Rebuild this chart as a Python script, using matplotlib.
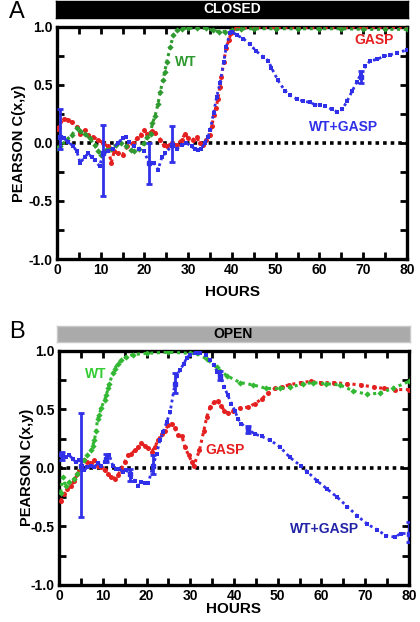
import numpy as np
import matplotlib
matplotlib.use('Agg')
import matplotlib.pyplot as plt
from matplotlib.ticker import MultipleLocator

plt.rcParams['font.family'] = ['Liberation Sans', 'DejaVu Sans']

# ---- panel A (CLOSED) ----
wt_a_x = [0, 0.75, 2.25, 3.4, 4.5, 5.3, 6.4, 7.5, 8.6, 9.4, 10.1, 11.3, 12.4, 13.5, 14.6, 15.8,
          16.9, 17.6, 18.8, 19.9, 20.6, 21.4, 21.8, 22.4, 23.1, 23.6, 24.2, 24.6, 25.1, 25.9,
          26.6, 27.4, 28.5, 30, 32, 34, 35.7, 37, 38.5, 40, 42, 45, 50, 55, 60, 65, 70, 75, 80]
wt_a_y = [-0.04, -0.03, 0.03, 0.07, 0.13, 0.10, 0.08, 0.04, -0.02, -0.07, -0.10, -0.06, -0.05,
          -0.02, 0.0, -0.03, -0.06, -0.07, -0.05, 0.0, 0.05, 0.08, 0.17, 0.23, 0.34, 0.44, 0.54,
          0.61, 0.70, 0.83, 0.93, 0.97, 0.985, 0.99, 0.99, 0.99, 0.97, 0.96, 0.96, 0.97, 0.985,
          0.985, 0.985, 0.985, 0.985, 0.985, 0.98, 0.98, 0.98]

gasp_a_x = [0, 0.4, 1.5, 2.6, 3.4, 4.5, 5.3, 6.4, 7.1, 8.3, 9.4, 10.5, 11.6, 12.4, 13.1, 13.9,
            15, 16.1, 17.3, 18.4, 19.1, 19.9, 20.6, 21.8, 22.5, 23.6, 24.4, 25.1, 26.3, 27.4,
            28.5, 29.3, 30, 31.1, 31.9, 32.6, 33.4, 34.1, 34.9, 35.4, 35.9, 36.3, 36.8, 37.2,
            37.6, 38.1, 38.7, 39.3, 39.8, 40.9, 45, 50, 55, 60, 65, 70, 75, 80]
gasp_a_y = [0.12, 0.14, 0.21, 0.20, 0.18, 0.14, 0.08, 0.11, 0.07, 0.05, 0.03, 0.0, -0.03, -0.17,
            -0.07, -0.09, -0.10, -0.03, 0.0, 0.04, 0.07, 0.11, 0.08, 0.10, 0.09, 0.03, -0.02,
            -0.03, 0.0, -0.02, 0.03, 0.08, 0.04, 0.03, 0.05, 0.0, -0.02, 0.03, 0.07, 0.15, 0.24,
            0.30, 0.38, 0.48, 0.57, 0.70, 0.82, 0.89, 0.95, 0.99, 0.995, 0.995, 0.995, 0.995,
            0.995, 0.995, 0.995, 0.995]

mix_a_x = [0.6, 1.5, 2.6, 3.75, 4.5, 5.3, 6.4, 7.1, 7.9, 8.6, 9.75, 10.5, 11.6, 12.75, 13.9, 15,
           15.75, 16.5, 17.6, 18.75, 19.9, 21, 22.1, 23.1, 24, 24.75, 26.3, 27.4, 28.5, 29.6,
           30.75, 31.5, 32.3, 33, 33.75, 34.5, 35.0, 35.8, 36.5, 37.3, 38.1, 38.7, 39.5, 40,
           41.1, 42.6, 44.1, 45.6, 47.2, 48.3, 49, 50.5, 52.1, 53.3, 54.8, 56.3, 57.9, 59,
           60.1, 61.3, 62.8, 64, 65.2, 66.3, 67.5, 68.6, 69.4, 70.5, 71.6, 73.2, 74.7, 76.2,
           77.7, 80]
mix_a_y = [0.05, 0.04, 0.01, -0.03, -0.07, -0.17, -0.12, -0.09, -0.12, -0.15, -0.20, -0.09,
           -0.07, -0.05, 0.0, 0.04, 0.05, 0.01, -0.03, -0.05, -0.07, -0.17, -0.17, -0.23, -0.12,
           -0.09, -0.02, -0.05, -0.02, 0.0, -0.03, -0.05, -0.06, -0.05, 0.0, 0.05, 0.11, 0.26,
           0.40, 0.52, 0.70, 0.83, 0.95, 0.96, 0.93, 0.90, 0.85, 0.79, 0.74, 0.71, 0.65, 0.54,
           0.45, 0.41, 0.38, 0.36, 0.35, 0.33, 0.33, 0.32, 0.29, 0.27, 0.29, 0.36, 0.45, 0.53,
           0.59, 0.66, 0.71, 0.72, 0.75, 0.76, 0.78, 0.80]

err_a_x = [0.6, 10.5, 21.0, 26.3, 69.4]
err_a_y = [0.05, -0.09, -0.17, -0.02, 0.57]
err_a_lo = [-0.05, -0.46, -0.35, -0.16, 0.52]
err_a_hi = [0.29, 0.155, 0.0, 0.15, 0.62]

# ---- panel B (OPEN) ----
wt_b_x = [0.4, 0.8, 1.5, 2.3, 3.5, 4.2, 5, 5.8, 6.5, 7.3, 7.7, 8.1, 8.5, 8.8, 9.2, 9.6, 10.4,
          10.8, 11.2, 11.5, 12.3, 12.7, 13.5, 14.2, 15.4, 16.9, 20, 25, 30, 31.5, 33.8, 36,
          38.3, 41.4, 44.4, 47.4, 50.5, 52.8, 55.8, 58.1, 61.1, 64.2, 67.2, 70.3, 73.3, 76.3, 80]
wt_b_y = [-0.21, -0.08, -0.15, -0.12, -0.09, -0.05, -0.01, 0.07, 0.11, 0.15, 0.19, 0.24, 0.32,
          0.42, 0.45, 0.51, 0.58, 0.62, 0.68, 0.72, 0.81, 0.85, 0.89, 0.92, 0.95, 0.97, 0.98,
          0.99, 0.98, 0.98, 0.93, 0.86, 0.79, 0.73, 0.71, 0.68, 0.68, 0.69, 0.72, 0.73, 0.72,
          0.71, 0.66, 0.63, 0.64, 0.68, 0.74]

gasp_b_x = [0.4, 1.2, 1.9, 2.7, 3.5, 4.2, 5, 5.8, 6.5, 7.3, 8.1, 8.8, 9.6, 10.4, 11.2, 11.9,
            12.7, 13.5, 14.2, 15, 15.8, 16.5, 17.3, 18.1, 18.8, 19.6, 20.4, 21.2, 21.9, 22.7,
            23.5, 24.2, 25, 25.8, 26.5, 27.3, 28.1, 28.8, 29.6, 30.4, 30.8, 32.1, 33.1, 33.8,
            34.6, 35.4, 36.3, 37.1, 37.8, 38.6, 39.8, 41.3, 43.2, 44.8, 46.3, 47.8, 49.4, 50.9,
            52.5, 55.2, 57.5, 59.8, 62.8, 65.9, 69, 72.1, 74.4, 76.7, 80]
gasp_b_y = [-0.28, -0.22, -0.18, -0.15, -0.11, -0.05, 0.02, 0.07, 0.05, 0.04, 0.07, 0.02, 0.01,
            -0.02, -0.05, -0.08, -0.09, -0.06, -0.01, 0.05, 0.11, 0.12, 0.15, 0.18, 0.21, 0.19,
            0.17, 0.14, 0.18, 0.24, 0.29, 0.32, 0.37, 0.38, 0.34, 0.28, 0.27, 0.18, 0.11, 0.05,
            0.02, 0.15, 0.32, 0.44, 0.52, 0.56, 0.57, 0.53, 0.49, 0.47, 0.49, 0.51, 0.52, 0.55,
            0.59, 0.64, 0.68, 0.69, 0.71, 0.73, 0.74, 0.73, 0.73, 0.72, 0.71, 0.69, 0.68, 0.67,
            0.67]

mix_b_x = [0.4, 0.8, 1.5, 2.3, 3.1, 3.8, 4.6, 5.0, 5.8, 6.5, 7.3, 8.1, 8.8, 9.6, 10.4, 10.8,
           11.5, 12.3, 13.1, 13.8, 14.6, 15.4, 16.2, 16.5, 17.3, 18.1, 18.8, 19.6, 20.4, 21.5,
           22.3, 23.1, 23.8, 24.6, 25.4, 26.5, 26.9, 27.7, 28.5, 29.2, 30, 31.2, 32.3, 33.5,
           34.6, 35.4, 36.2, 37.1, 37.8, 38.6, 39.4, 40.2, 40.9, 41.7, 43.2, 44.8, 46.3, 48.2,
           50.5, 52.8, 55.2, 56.7, 59, 61.3, 63.6, 65.9, 68.2, 70.5, 72.8, 74.8, 76.7, 78.2,
           80]
mix_b_y = [0.11, 0.12, 0.09, 0.11, 0.08, 0.05, 0.07, 0.02, -0.02, 0.01, 0.02, 0.01, 0.04, 0.02,
           0.05, 0.08, 0.11, 0.02, -0.01, -0.01, -0.03, -0.02, -0.05, -0.08, -0.11, -0.15,
           -0.12, -0.13, -0.13, 0.02, 0.12, 0.24, 0.31, 0.39, 0.48, 0.72, 0.79, 0.84, 0.89, 0.94,
           0.97, 0.98, 0.98, 0.97, 0.92, 0.88, 0.82, 0.77, 0.69, 0.62, 0.55, 0.49, 0.42, 0.38,
           0.33, 0.29, 0.27, 0.24, 0.18, 0.09, 0.02, -0.03, -0.11, -0.18, -0.25, -0.33, -0.41,
           -0.48, -0.53, -0.58, -0.59, -0.56, -0.56]

err_b_x = [0.6, 5.0, 10.8, 16.2, 21.5, 26.5, 36.8, 43.2, 80]
err_b_y = [0.11, 0.02, 0.08, -0.05, 0.02, 0.72, 0.79, 0.33, -0.56]
err_b_lo = [0.07, -0.42, 0.05, -0.11, -0.05, 0.64, 0.75, 0.30, -0.63]
err_b_hi = [0.14, 0.47, 0.12, -0.01, 0.11, 0.81, 0.83, 0.36, -0.46]

GREEN = '#2f9a2f'
RED = '#e52020'
BLUE = '#3030e8'


def draw_panel(ax, wt, gasp, mix, err):
    ax.axhline(0, color='black', lw=2.6, ls=(0, (1, 1.1)), zorder=1)
    ax.plot(gasp[0], gasp[1], color=RED, ls=(0, (1, 1.2)), lw=2.2,
            marker='o', ms=3.6, mew=0, zorder=3)
    ax.plot(wt[0], wt[1], color=wt[2], ls=(0, (1, 1.2)), lw=2.2,
            marker='D', ms=3.2, mew=0, zorder=4)
    ax.plot(mix[0], mix[1], color=BLUE, ls=(0, (1, 1.2)), lw=2.0,
            marker='s', ms=2.6, mew=0, zorder=5)
    ex, ey, elo, ehi = err
    ey = np.array(ey)
    ax.errorbar(ex, ey, yerr=[ey - np.array(elo), np.array(ehi) - ey], fmt='s', ms=3.5,
                color=BLUE, elinewidth=2, capsize=2.5, capthick=2, zorder=6)

    ax.set_xlim(0, 80)
    ax.set_ylim(-1, 1)
    ax.xaxis.set_major_locator(MultipleLocator(10))
    ax.xaxis.set_minor_locator(MultipleLocator(5))
    ax.yaxis.set_major_locator(MultipleLocator(0.5))
    ax.yaxis.set_minor_locator(MultipleLocator(0.25))
    ax.tick_params(which='both', direction='in', top=True, right=True,
                   length=5, width=2, labelsize=10, pad=3)
    for lbl in ax.get_xticklabels() + ax.get_yticklabels():
        lbl.set_fontweight('bold')
    ax.yaxis.set_major_formatter(matplotlib.ticker.FormatStrFormatter('%.1f'))
    for sp in ax.spines.values():
        sp.set_linewidth(2.4)


fig = plt.figure(figsize=(4.2, 6.22), dpi=100)

ax_a = fig.add_axes([0.1357, 0.5836, 0.8333, 0.3730])
draw_panel(ax_a, (wt_a_x, wt_a_y, GREEN), (gasp_a_x, gasp_a_y), (mix_a_x, mix_a_y),
           (err_a_x, err_a_y, err_a_lo, err_a_hi))
ax_a.text(29.5, 0.70, 'WT', color=GREEN, fontsize=10, fontweight='bold', ha='center', va='center')
ax_a.text(72.5, 0.89, 'GASP', color=RED, fontsize=10, fontweight='bold', ha='center', va='center')
ax_a.text(65.5, 0.14, 'WT+GASP', color=BLUE, fontsize=10, fontweight='bold', ha='center', va='center')

ax_b = fig.add_axes([0.1405, 0.0595, 0.8333, 0.3762])
draw_panel(ax_b, (wt_b_x, wt_b_y, '#33b833'), (gasp_b_x, gasp_b_y), (mix_b_x, mix_b_y),
           (err_b_x, err_b_y, err_b_lo, err_b_hi))
ax_b.text(8.3, 0.80, 'WT', color='#33cc33', fontsize=10, fontweight='bold', ha='center', va='center')
ax_b.text(38.0, 0.15, 'GASP', color=RED, fontsize=10, fontweight='bold', ha='center', va='center')
ax_b.text(60.8, -0.52, 'WT+GASP', color='#2323a8', fontsize=10, fontweight='bold', ha='center', va='center')

# state bars above each panel
bar_a = fig.add_axes([0.1333, 0.9711, 0.838, 0.0273])
bar_a.set_facecolor('black')
bar_a.text(0.5, 0.5, 'CLOSED', color='white', fontsize=10, fontweight='bold',
           ha='center', va='center', transform=bar_a.transAxes)
bar_b = fig.add_axes([0.1357, 0.4502, 0.840, 0.0257])
bar_b.set_facecolor('#aaaaaa')
bar_b.text(0.5, 0.5, 'OPEN', color='black', fontsize=10, fontweight='bold',
           ha='center', va='center', transform=bar_b.transAxes)
for bar, ec in [(bar_a, 'black'), (bar_b, '#c8c8c8')]:
    bar.set_xticks([])
    bar.set_yticks([])
    for sp in bar.spines.values():
        sp.set_color(ec)
        sp.set_linewidth(1)

fig.text(0.04, 0.981, 'A', fontsize=17, ha='center', va='center')
fig.text(0.04, 0.466, 'B', fontsize=17, ha='center', va='center')

fig.text(0.045, 0.770, 'PEARSON C(x,y)', rotation=90, fontsize=10.5, fontweight='bold',
         ha='center', va='center')
fig.text(0.065, 0.248, 'PEARSON C(x,y)', rotation=90, fontsize=10.5, fontweight='bold',
         ha='center', va='center')
fig.text(0.553, 0.5305, 'HOURS', fontsize=11, fontweight='bold', ha='center', va='center')
fig.text(0.557, 0.0209, 'HOURS', fontsize=11, fontweight='bold', ha='center', va='center')

fig.savefig('out.png', dpi=100)
